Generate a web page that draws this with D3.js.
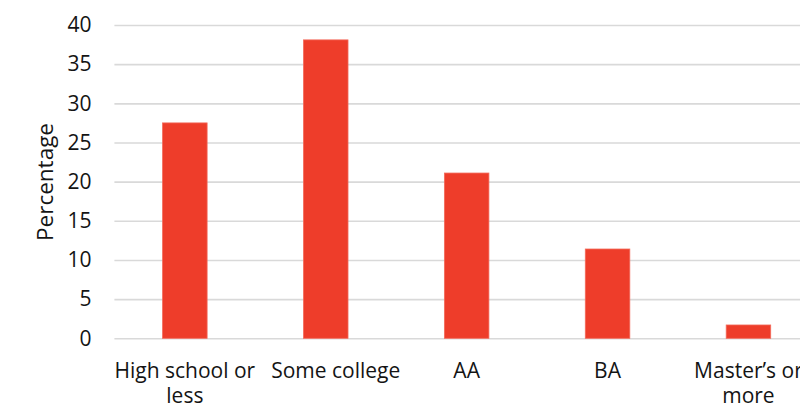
<!DOCTYPE html>
<html>
<head>
<meta charset="utf-8">
<script src="https://cdn.jsdelivr.net/npm/d3@7"></script>
<style>
  html, body { margin: 0; padding: 0; background: #fff; }
  svg { display: block; }
  text { font-family: "Open Sans", "Noto Sans", sans-serif; fill: #141414; }
</style>
</head>
<body>
<svg id="chart" width="800" height="406"></svg>
<script>
// Share of respondents by highest level of education
const categories = ["High school or less", "Some college", "AA", "BA", "Master\u2019s or more"];
const percentages = [27.5, 38.1, 21.1, 11.4, 1.7];
const yTicks = [0, 5, 10, 15, 20, 25, 30, 35, 40];

const svg = d3.select("#chart");
const margin = { left: 114.4, top: 25, bottom: 67.7 };
const plotW = 704.5;
const plotH = 406 - margin.top - margin.bottom;

const g = svg.append("g").attr("transform", `translate(${margin.left},${margin.top})`);

const x = d3.scaleBand()
  .domain(categories)
  .range([0, plotW])
  .paddingInner(0.684)
  .paddingOuter(0.342);

const y = d3.scaleLinear().domain([0, 40]).range([plotH, 0]);

// horizontal gridlines with value labels
const yAxis = g.append("g")
  .call(d3.axisLeft(y).tickValues(yTicks).tickSize(-plotW).tickPadding(23));
yAxis.select(".domain").remove();
yAxis.selectAll(".tick line").attr("stroke", "#d9d9d9").attr("stroke-width", 1.6);
yAxis.selectAll(".tick text")
  .attr("font-size", 21)
  .style("font-family", '"Open Sans", sans-serif')
  .attr("fill", "#141414");

// bars
g.selectAll("rect.bar")
  .data(categories)
  .join("rect")
  .attr("class", "bar")
  .attr("x", d => x(d))
  .attr("width", x.bandwidth())
  .attr("y", (d, i) => y(percentages[i]))
  .attr("height", (d, i) => y(0) - y(percentages[i]))
  .attr("fill", "#ee3d2a")
  .attr("stroke", "#f36a5a")
  .attr("stroke-width", 0.8);

// category labels, wrapped to the band step; the single-line
// "Some college" label sits a little right of its bar
const labelShift = { "Some college": 10 };
const labels = g.append("g").attr("transform", `translate(0,${plotH})`);
const step = x.step();
categories.forEach(cat => {
  const cx = x(cat) + x.bandwidth() / 2 + (labelShift[cat] || 0);
  const t = labels.append("text")
    .attr("x", cx)
    .attr("y", 39.5)
    .attr("text-anchor", "middle")
    .attr("font-size", 21);
  const words = cat.split(" ");
  let line = [];
  let tspan = t.append("tspan").attr("x", cx).attr("dy", 0);
  words.forEach(w => {
    line.push(w);
    tspan.text(line.join(" "));
    if (tspan.node().getComputedTextLength() > step && line.length > 1) {
      line.pop();
      tspan.text(line.join(" "));
      line = [w];
      tspan = t.append("tspan")
        .attr("x", cx)
        .attr("dy", 25.2)
        .text(w);
    }
  });
});

// axis title
svg.append("text")
  .attr("transform", `translate(53,182) rotate(-90)`)
  .attr("text-anchor", "middle")
  .attr("font-size", 22.5)
  .text("Percentage");
</script>
</body>
</html>
